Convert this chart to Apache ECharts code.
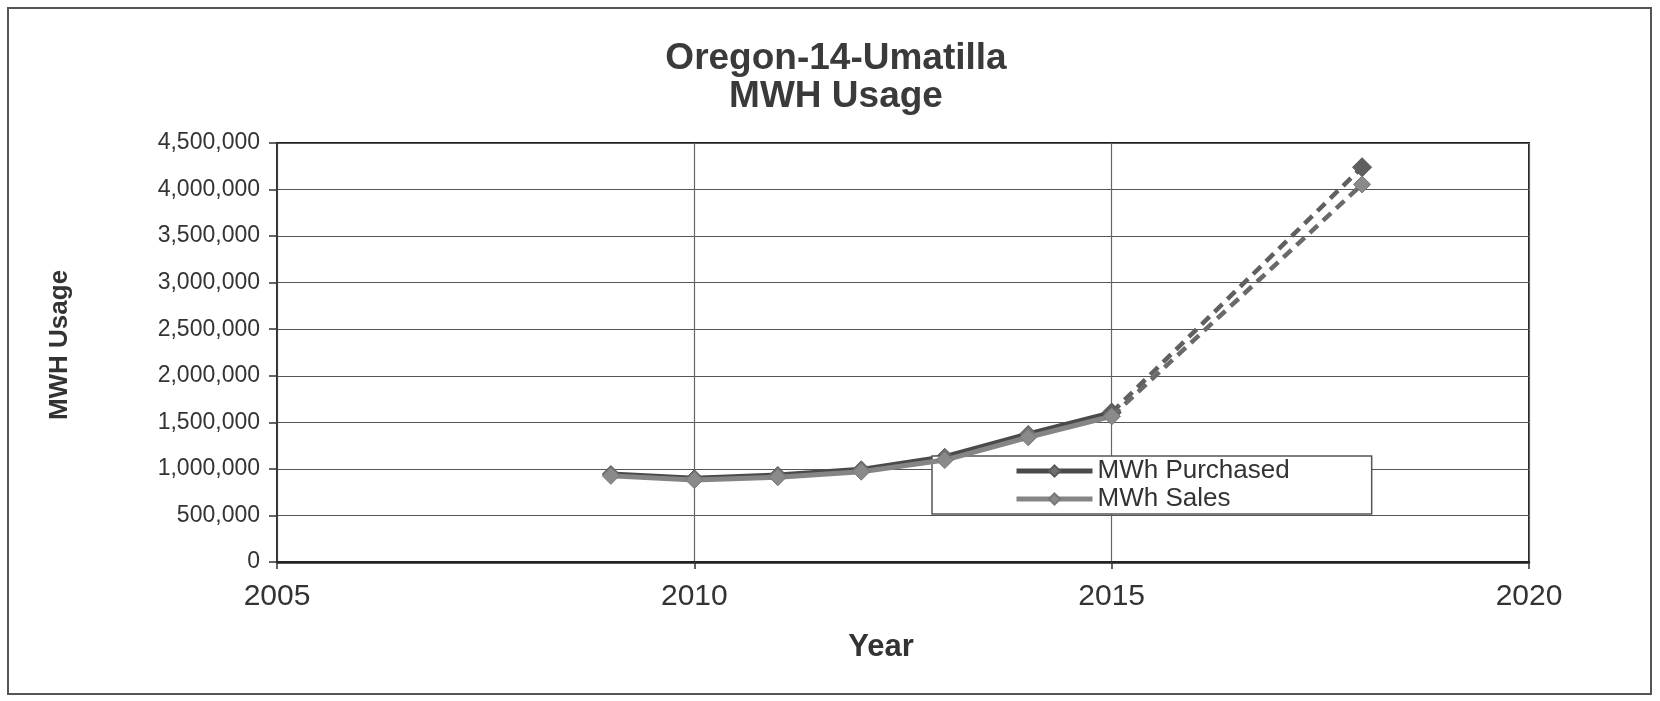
<!DOCTYPE html>
<html>
<head>
<meta charset="utf-8">
<title>Oregon-14-Umatilla MWH Usage</title>
<script src="https://cdn.jsdelivr.net/npm/echarts@6/dist/echarts.min.js"></script>
<style>
  html, body { margin: 0; padding: 0; background: #ffffff; }
  #chart { width: 1660px; height: 701px; }
</style>
</head>
<body>
<div id="chart"></div>
<script>
// Recorded years (solid) and forecast leg (dashed)
const years = [2009, 2010, 2011, 2012, 2013, 2014, 2015];
const purchased = [945000, 900000, 935000, 995000, 1130000, 1375000, 1605000];
const sales = [925000, 880000, 910000, 970000, 1095000, 1340000, 1565000];
const forecastYears = [2015, 2018];
const purchasedForecast = [1605000, 4240000];
const salesForecast = [1565000, 4055000];
const xTicks = [2005, 2010, 2015, 2020];
const yTicks = [0, 500000, 1000000, 1500000, 2000000, 2500000, 3000000, 3500000, 4000000, 4500000];

const pairs = (xs, ys) => xs.map((x, i) => [x, ys[i]]);
const fmt = v => v.toLocaleString('en-US');

const FONT = '"Liberation Sans", Arial, sans-serif';
const darkLine = '#4a4a4a';
const lightLine = '#858585';

const chart = echarts.init(document.getElementById('chart'), null, { renderer: 'canvas' });

chart.setOption({
  backgroundColor: '#ffffff',
  animation: false,
  title: {
    text: 'Oregon-14-Umatilla\nMWH Usage',
    left: 831,
    top: 35,
    textAlign: 'center',
    textStyle: {
      fontFamily: FONT, fontWeight: 'bold', fontSize: 37, color: '#3a3a3a', lineHeight: 38
    }
  },
  graphic: [{
    type: 'rect',
    shape: { x: 8, y: 8, width: 1643, height: 686 },
    style: { fill: 'none', stroke: '#555', lineWidth: 2 },
    silent: true
  }],
  grid: { left: 277, right: 131, top: 143, bottom: 139, show: true, borderColor: '#222', borderWidth: 2 },
  legend: {
    orient: 'vertical',
    left: 932,
    top: 456,
    data: ['MWh Purchased', 'MWh Sales'],
    itemWidth: 76,
    itemHeight: 14,
    itemGap: 2,
    padding: [2, 82, 2, 82],
    backgroundColor: '#ffffff',
    borderColor: '#555',
    borderWidth: 1.5,
    lineStyle: { width: 5 },
    textStyle: { fontFamily: FONT, fontSize: 26, color: '#333' }
  },
  xAxis: {
    type: 'value',
    min: 2005, max: 2020, interval: 5,
    name: 'Year',
    nameLocation: 'middle',
    nameGap: 70,
    nameTextStyle: { fontFamily: FONT, fontWeight: 'bold', fontSize: 31, color: '#333', padding: [0, 44, 0, 0] },
    axisLine: { show: true, lineStyle: { color: '#222', width: 2.5 } },
    axisTick: { show: true, length: 7, lineStyle: { color: '#333', width: 1.5 } },
    axisLabel: {
      fontFamily: FONT, fontSize: 30, color: '#333', margin: 20,
      formatter: v => xTicks.includes(v) ? String(v) : ''
    },
    splitLine: { show: true, lineStyle: { color: '#666', width: 1.2 } }
  },
  yAxis: {
    type: 'value',
    min: 0, max: 4500000, interval: 500000,
    name: 'MWH Usage',
    nameLocation: 'middle',
    nameGap: 204,
    nameRotate: 90,
    nameTextStyle: { fontFamily: FONT, fontWeight: 'bold', fontSize: 26, color: '#333', padding: [0, 0, 0, 15] },
    axisLine: { show: true, lineStyle: { color: '#333', width: 1.5 } },
    axisTick: { show: true, length: 8, lineStyle: { color: '#333', width: 1.5 } },
    axisLabel: {
      fontFamily: FONT, fontSize: 23, color: '#333', margin: 17,
      formatter: v => yTicks.includes(v) ? fmt(v) : ''
    },
    splitLine: { show: true, lineStyle: { color: '#555', width: 1.2 } }
  },
  series: [
    {
      name: 'MWh Purchased',
      type: 'line',
      data: pairs(years, purchased),
      symbol: 'diamond', symbolSize: 17,
      itemStyle: { color: '#707070', borderColor: '#5a5a5a', borderWidth: 1 },
      lineStyle: { color: darkLine, width: 5 },
      z: 3
    },
    {
      name: 'MWh Sales',
      type: 'line',
      data: pairs(years, sales),
      symbol: 'diamond', symbolSize: 17,
      itemStyle: { color: '#8a8a8a', borderColor: '#777', borderWidth: 1 },
      lineStyle: { color: lightLine, width: 5 },
      z: 4
    },
    {
      name: 'MWh Purchased forecast',
      type: 'line',
      data: pairs(forecastYears, purchasedForecast),
      symbol: 'diamond', symbolSize: 19,
      itemStyle: { color: '#5f5f5f', borderColor: '#555', borderWidth: 1 },
      lineStyle: { color: '#606060', width: 4.5, type: [11, 7] },
      z: 3
    },
    {
      name: 'MWh Sales forecast',
      type: 'line',
      data: pairs(forecastYears, salesForecast),
      symbol: 'diamond', symbolSize: 17,
      itemStyle: { color: '#8a8a8a', borderColor: '#777', borderWidth: 1 },
      lineStyle: { color: '#6a6a6a', width: 4.5, type: [11, 7] },
      z: 4
    }
  ]
});
</script>
</body>
</html>
